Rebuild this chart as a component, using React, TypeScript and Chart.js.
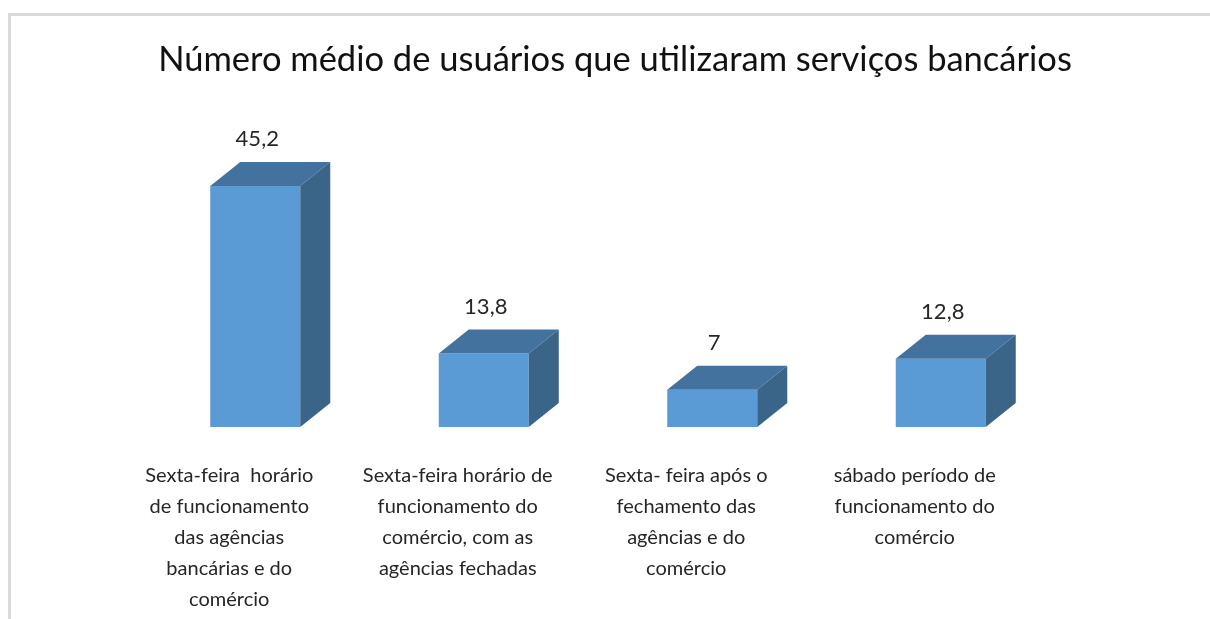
import React, { useEffect, useRef } from "react";
import { Chart, registerables } from "chart.js";

Chart.register(...registerables);

const titleText = "Número médio de usuários que utilizaram serviços bancários";

const categories: string[][] = [
  ["Sexta-feira  horário", "de funcionamento", "das agências", "bancárias e do", "comércio"],
  ["Sexta-feira horário de", "funcionamento do", "comércio, com as", "agências fechadas"],
  ["Sexta- feira após o", "fechamento das", "agências e do", "comércio"],
  ["sábado período de", "funcionamento do", "comércio"],
];

const values: number[] = [45.2, 13.8, 7, 12.8];

const FRONT = "#5b9bd5";
const TOP = "#44729f";
const SIDE = "#3b6489";
const DEPTH_X = 30;
const DEPTH_Y = 24;
const FONT = "Lato, 'Open Sans', sans-serif";

const framePlugin = {
  id: "frame",
  beforeDraw(chart: any) {
    const ctx = chart.ctx;
    ctx.save();
    ctx.fillStyle = "#ffffff";
    ctx.fillRect(0, 0, chart.width, chart.height);
    ctx.fillStyle = "#dadada";
    ctx.fillRect(8, 13, chart.width - 8, 3);
    ctx.fillRect(8, 13, 3, chart.height - 13);
    ctx.restore();
  },
};

const bar3dPlugin = {
  id: "bar3d",
  afterDatasetsDraw(chart: any) {
    const ctx = chart.ctx;
    const meta = chart.getDatasetMeta(0);
    meta.data.forEach((el: any, i: number) => {
      const { x, y, base, width } = el.getProps(["x", "y", "base", "width"], true);
      const l = x - width / 2;
      const r = x + width / 2;
      ctx.save();
      // top face
      ctx.fillStyle = TOP;
      ctx.beginPath();
      ctx.moveTo(l, y);
      ctx.lineTo(l + DEPTH_X, y - DEPTH_Y);
      ctx.lineTo(r + DEPTH_X, y - DEPTH_Y);
      ctx.lineTo(r, y);
      ctx.closePath();
      ctx.fill();
      // side face
      ctx.fillStyle = SIDE;
      ctx.beginPath();
      ctx.moveTo(r, y);
      ctx.lineTo(r + DEPTH_X, y - DEPTH_Y);
      ctx.lineTo(r + DEPTH_X, base - DEPTH_Y);
      ctx.lineTo(r, base);
      ctx.closePath();
      ctx.fill();
      // value label
      ctx.font = `22px ${FONT}`;
      ctx.fillStyle = "#262626";
      ctx.textAlign = "center";
      ctx.textBaseline = "middle";
      ctx.fillText(String(values[i]).replace(".", ","), x + 2, y - 47);
      ctx.restore();
    });
  },
};

export default function App() {
  const ref = useRef<HTMLCanvasElement | null>(null);

  useEffect(() => {
    if (!ref.current) return;
    const chart = new Chart(ref.current, {
      type: "bar",
      data: {
        labels: categories,
        datasets: [
          {
            data: values,
            backgroundColor: FRONT,
            borderWidth: 0,
            barPercentage: 0.394,
            categoryPercentage: 1,
          },
        ],
      },
      options: {
        responsive: false,
        animation: false,
        events: [],
        layout: { padding: { left: 141, right: 121, top: 0, bottom: 0 } },
        plugins: {
          legend: { display: false },
          tooltip: { enabled: false },
          title: {
            display: true,
            text: titleText,
            color: "#111111",
            font: { family: FONT, size: 34.5, weight: "normal", lineHeight: 1.2 },
            padding: { top: 39, bottom: 80 },
          },
        },
        scales: {
          x: {
            grid: { display: false, drawTicks: false },
            border: { display: false },
            ticks: {
              autoSkip: false,
              maxRotation: 0,
              minRotation: 0,
              padding: 33,
              labelOffset: -26,
              color: "#262626",
              font: { family: FONT, size: 20, lineHeight: 31 / 20 },
            },
            afterFit: (s: any) => {
              s.height = 192;
            },
          },
          y: {
            position: "right",
            min: 0,
            max: 50,
            grid: { display: false, drawTicks: false },
            border: { display: false },
            ticks: { display: false },
            afterFit: (s: any) => {
              s.width = 34;
            },
          },
        },
      },
      plugins: [framePlugin, bar3dPlugin],
    });
    return () => chart.destroy();
  }, []);

  return (
    <div style={{ position: "fixed", left: 0, top: 0, width: 1210, height: 619 }}>
      <canvas ref={ref} width={1210} height={619} />
    </div>
  );
}
